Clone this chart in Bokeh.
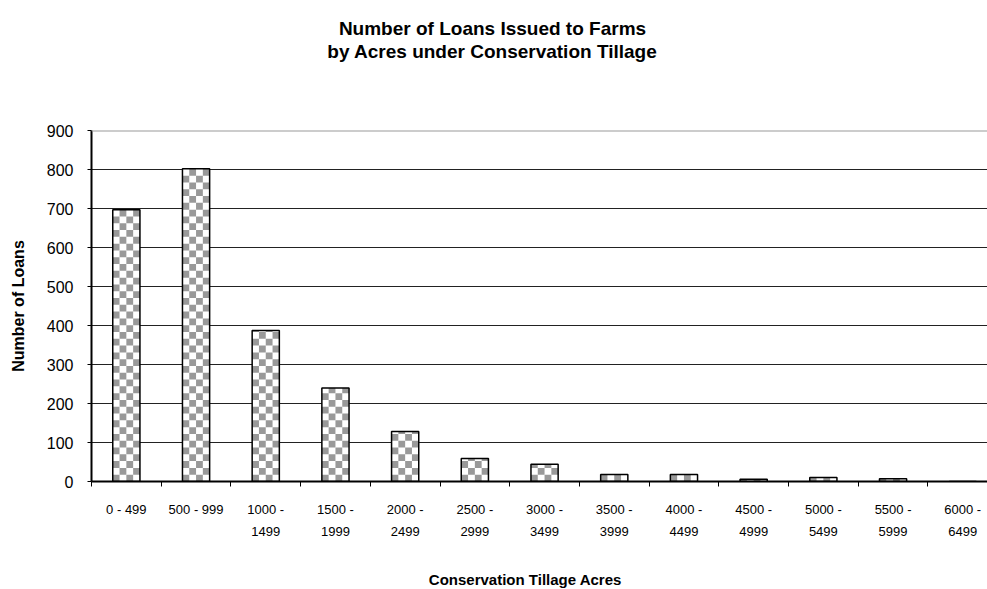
import math
from bokeh.plotting import figure
from bokeh.models import Range1d, FixedTicker, Span, Title
from bokeh.embed import file_html
from bokeh.resources import INLINE

# ---- data ----
categories = ["0 - 499", "500 - 999", "1000 -\n1499", "1500 -\n1999", "2000 -\n2499",
              "2500 -\n2999", "3000 -\n3499", "3500 -\n3999", "4000 -\n4499",
              "4500 -\n4999", "5000 -\n5499", "5500 -\n5999", "6000 -\n6499"]
loans = [697, 802, 387, 240, 128, 59, 44, 18, 18, 6, 10, 7, 0]
y_ticks = [0, 100, 200, 300, 400, 500, 600, 700, 800, 900]
title_lines = ["Number of Loans Issued to Farms", "by Acres under Conservation Tillage"]
x_title = "Conservation Tillage Acres"
y_title = "Number of Loans"

FONT = "Liberation Sans"
W, H = 987, 589
FL, FT, FB = 91, 130, 481          # frame left / top / bottom (canvas px)
X_END = 12.855                      # visible categories (chart is cut at the right edge)
BAR_W = 0.39

n = len(categories)
centers = [i + 0.5 for i in range(n)]
bounds = list(range(n + 1))

p = figure(width=W, height=H, output_backend="svg", toolbar_location=None,
           title=None,
           x_range=Range1d(0, X_END), y_range=Range1d(y_ticks[0], y_ticks[-1]),
           min_border_left=FL, min_border_right=0, min_border_top=FT,
           min_border_bottom=H - FB)
p.outline_line_color = None
p.background_fill_color = "white"
p.border_fill_color = "white"

# ---- checkered bar fill: cells derived from bar values ----
px_per_x = (W - FL) / X_END
px_per_y = (FB - FT) / (y_ticks[-1] - y_ticks[0])
cols = 4
dx = BAR_W / cols
dy = dx * px_per_x / px_per_y
cl, cr, cb, ct = [], [], [], []
for c, v in zip(centers, loans):
    x0 = c - BAR_W / 2
    rows = int(math.ceil(v / dy)) if v > 0 else 0
    for r in range(rows):
        for k in range(cols):
            if (r + k) % 2 == 0:
                cl.append(x0 + k * dx)
                cr.append(x0 + (k + 1) * dx)
                cb.append(r * dy)
                ct.append(min((r + 1) * dy, v))

p.vbar(x=centers, top=loans, width=BAR_W, bottom=0, fill_color="white", line_color=None)
p.quad(left=cl, right=cr, bottom=cb, top=ct, fill_color="#999999", line_color=None)
p.vbar(x=centers, top=loans, width=BAR_W, bottom=0, fill_color=None,
       line_color="black", line_width=1.5)

# grid
p.xgrid.visible = False
p.ygrid.ticker = FixedTicker(ticks=y_ticks)
p.ygrid.grid_line_color = "#222222"
p.ygrid.grid_line_width = 1
p.add_layout(Span(location=y_ticks[-1], dimension="width", line_color="#999999",
                  line_width=2))

# x axis
xa = p.xaxis[0]
xa.ticker = FixedTicker(ticks=centers, minor_ticks=bounds)
xa.major_label_overrides = {c: lab for c, lab in zip(centers, categories)}
xa.major_tick_line_color = None
xa.major_tick_out = 0
xa.major_tick_in = 0
xa.minor_tick_line_color = "black"
xa.minor_tick_out = 5
xa.minor_tick_in = 0
xa.minor_tick_line_width = 1
xa.axis_line_color = "black"
xa.axis_line_width = 2
xa.major_label_text_font = FONT
xa.major_label_text_font_size = "13px"
xa.major_label_text_color = "black"
xa.major_label_text_line_height = 1.5
xa.major_label_standoff = 15

# y axis
ya = p.yaxis[0]
ya.ticker = FixedTicker(ticks=y_ticks)
ya.minor_tick_line_color = None
ya.major_tick_out = 4
ya.major_tick_in = 0
ya.major_tick_line_color = "black"
ya.axis_line_color = "black"
ya.axis_line_width = 2
ya.major_label_text_font = FONT
ya.major_label_text_font_size = "16px"
ya.major_label_text_color = "black"
ya.major_label_standoff = 14
ya.axis_label = y_title
ya.axis_label_text_font = FONT
ya.axis_label_text_font_size = "16px"
ya.axis_label_text_font_style = "bold"
ya.axis_label_text_color = "black"
ya.axis_label_standoff = 17


def centred_title(text, size_px, em_width, cx, **kw):
    """Left-aligned Title whose offset centres it at canvas x = cx (Arial-bold width estimate)."""
    w = em_width * size_px
    return Title(text=text, text_font=FONT, text_font_size=f"{size_px}px",
                 text_font_style="bold", text_color="black", align="left",
                 offset=cx - w / 2 - FL, vertical_align="middle", **kw)


# ---- chart title: spacer + two lines ----
TITLE_PX = 19
p.add_layout(Title(text=" ", text_font_size="1px", standoff=65), "above")
p.add_layout(centred_title(title_lines[1], TITLE_PX, 17.39, 492, standoff=0), "above")
p.add_layout(centred_title(title_lines[0], TITLE_PX, 16.17, 492, standoff=0), "above")

# ---- x axis title: spacer below the tick labels, then the title ----
p.add_layout(Title(text=" ", text_font_size="1px", standoff=24), "below")
p.add_layout(centred_title(x_title, 15, 12.89, 525, standoff=0), "below")

open("out.html", "w").write(file_html(p, INLINE))
